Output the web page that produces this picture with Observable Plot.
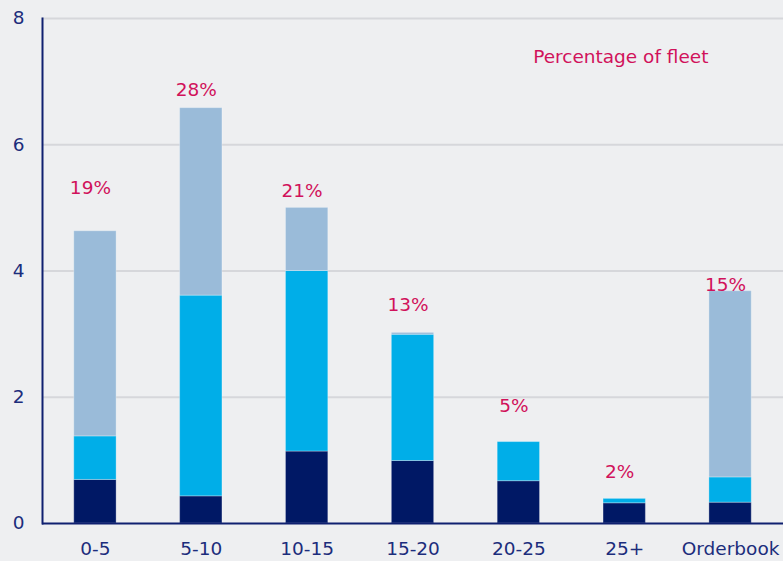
<!DOCTYPE html>
<html><head><meta charset="utf-8">
<script src="https://cdn.jsdelivr.net/npm/d3@7"></script>
<script src="https://cdn.jsdelivr.net/npm/@observablehq/plot@0.6"></script>
<style>
html,body{margin:0;padding:0;background:#eeeff1;}
</style></head><body><div id="chart"></div>
<script>
const categories = ["0-5", "5-10", "10-15", "15-20", "20-25", "25+", "Orderbook"];
const seriesNames = ["Segment A", "Segment B", "Segment C"];
const segmentA = [0.69, 0.43, 1.14, 0.99, 0.67, 0.32, 0.33];
const segmentB = [0.69, 3.18, 2.86, 2.00, 0.62, 0.07, 0.40];
const segmentC = [3.25, 2.97, 1.00, 0.03, 0.00, 0.00, 2.95];
const pctLabels = ["19%", "28%", "21%", "13%", "5%", "2%", "15%"];
const pctLabelY = [5.32, 6.87, 5.26, 3.46, 1.86, 0.81, 3.77];
const yTicks = [0, 2, 4, 6, 8];
const noteText = "Percentage of fleet";

const seriesValues = [segmentA, segmentB, segmentC];
const rows = [];
categories.forEach((c, i) => {
  seriesNames.forEach((s, j) => rows.push({category: c, series: s, value: seriesValues[j][i]}));
});
const labels = categories.map((c, i) => ({category: c, label: pctLabels[i], y: pctLabelY[i]}));

const navy = "#1c2d7c";
const fs = 18.5;
const chart = Plot.plot({
  width: 783,
  height: 561,
  marginLeft: 42,
  marginRight: 0,
  marginTop: 18,
  marginBottom: 38,
  style: {background: "#eeeff1", fontFamily: "DejaVu Sans, Verdana, sans-serif", fontSize: fs + "px"},
  x: {domain: categories, paddingInner: 0.6, paddingOuter: 0.3, round: false, label: null},
  y: {domain: [0, 8], label: null},
  color: {domain: seriesNames, range: ["#001865", "#00aee8", "#9abbd9"]},
  marks: [
    Plot.ruleY(yTicks.filter(d => d > 0), {stroke: "#d6d7db", strokeWidth: 2}),
    Plot.barY(rows, {x: "category", y: "value", fill: "series", stroke: "#ffffff", strokeOpacity: 0.3, strokeWidth: 1}),
    Plot.text(labels, {x: "category", y: "y", text: "label", fill: "#d1125b", dx: -5, fontSize: fs}),
    Plot.text([noteText], {frameAnchor: "top-right", dx: -75, dy: 39, lineAnchor: "middle", textAnchor: "end", fill: "#d1125b", fontSize: fs}),
    Plot.axisY({ticks: yTicks, tickSize: 0, tickPadding: 18, fill: navy, fontSize: fs, label: null}),
    Plot.axisX({tickSize: 0, tickPadding: 18, fill: navy, fontSize: fs, label: null}),
    Plot.ruleY([0], {stroke: "#0f2070", strokeWidth: 2}),
    Plot.frame({anchor: "left", stroke: "#0f2070", strokeWidth: 2})
  ]
});
document.getElementById("chart").appendChild(chart);
</script></body></html>
